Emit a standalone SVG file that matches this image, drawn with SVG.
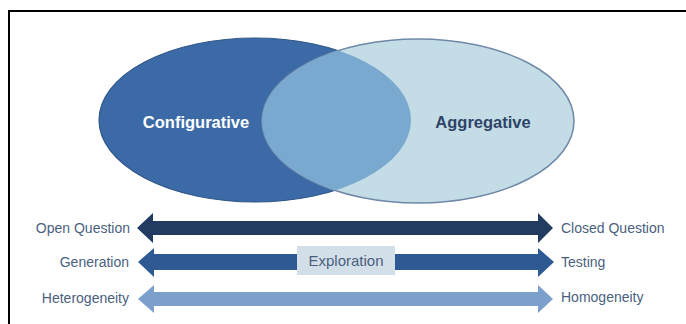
<svg xmlns="http://www.w3.org/2000/svg" width="686" height="324" viewBox="0 0 686 324">
<style>
.lbl{font-family:"Liberation Sans",Arial,sans-serif;font-size:14px;fill:#4a5f80}
.big{font-family:"Liberation Sans",Arial,sans-serif;font-size:16.5px;font-weight:bold;text-anchor:middle}
</style>
<defs>
<clipPath id="clipAgg"><ellipse cx="418" cy="121" rx="156" ry="82"/></clipPath>
</defs>
<rect x="0" y="0" width="686" height="324" fill="#ffffff"/>
<path d="M9,324 V11 H686" fill="none" stroke="#000" stroke-width="2"/>
<g id="configurative">
<ellipse cx="255" cy="120" rx="156" ry="82" fill="#3b6aa6" stroke="#2f5788" stroke-width="1.2"/>
</g>
<g id="aggregative">
<ellipse cx="418" cy="121" rx="156" ry="82" fill="#c4dce5" stroke="#6f89a8" stroke-width="1.5"/>
</g>
<g id="overlap">
<ellipse cx="255" cy="120" rx="156" ry="82" fill="#7aa9d0" clip-path="url(#clipAgg)"/>
<path d="M340,50 A156,82 0 0 1 336,191" fill="none"/>
</g>
<text class="big" x="196" y="128" fill="#ffffff">Configurative</text>
<text class="big" x="483" y="128" fill="#2d4468">Aggregative</text>
<g id="connectors">
<polygon points="137,228 153,213 153,221 538,221 538,213 553,228 538,243 538,235 153,235 153,243" fill="#213c60"/>
<polygon points="138,262 154,248 154,254 538,254 538,248 554,262 538,277 538,270 154,270 154,277" fill="#2e5993"/>
<polygon points="138,299 154,285 154,292 538,292 538,285 553,299 538,313 538,306 154,306 154,313" fill="#7c9fcc"/>
</g>
<g id="exploration">
<rect x="297" y="246" width="98" height="29" fill="#d3dfe8"/>
<text x="346" y="266" text-anchor="middle" font-family="Liberation Sans,Arial,sans-serif" font-size="15" fill="#4a5f80">Exploration</text>
</g>
<g id="labels">
<text class="lbl" x="130" y="233" text-anchor="end">Open Question</text>
<text class="lbl" x="129" y="267" text-anchor="end">Generation</text>
<text class="lbl" x="129" y="303" text-anchor="end">Heterogeneity</text>
<text class="lbl" x="561" y="233">Closed Question</text>
<text class="lbl" x="561" y="267">Testing</text>
<text class="lbl" x="561" y="302">Homogeneity</text>
</g>
</svg>
